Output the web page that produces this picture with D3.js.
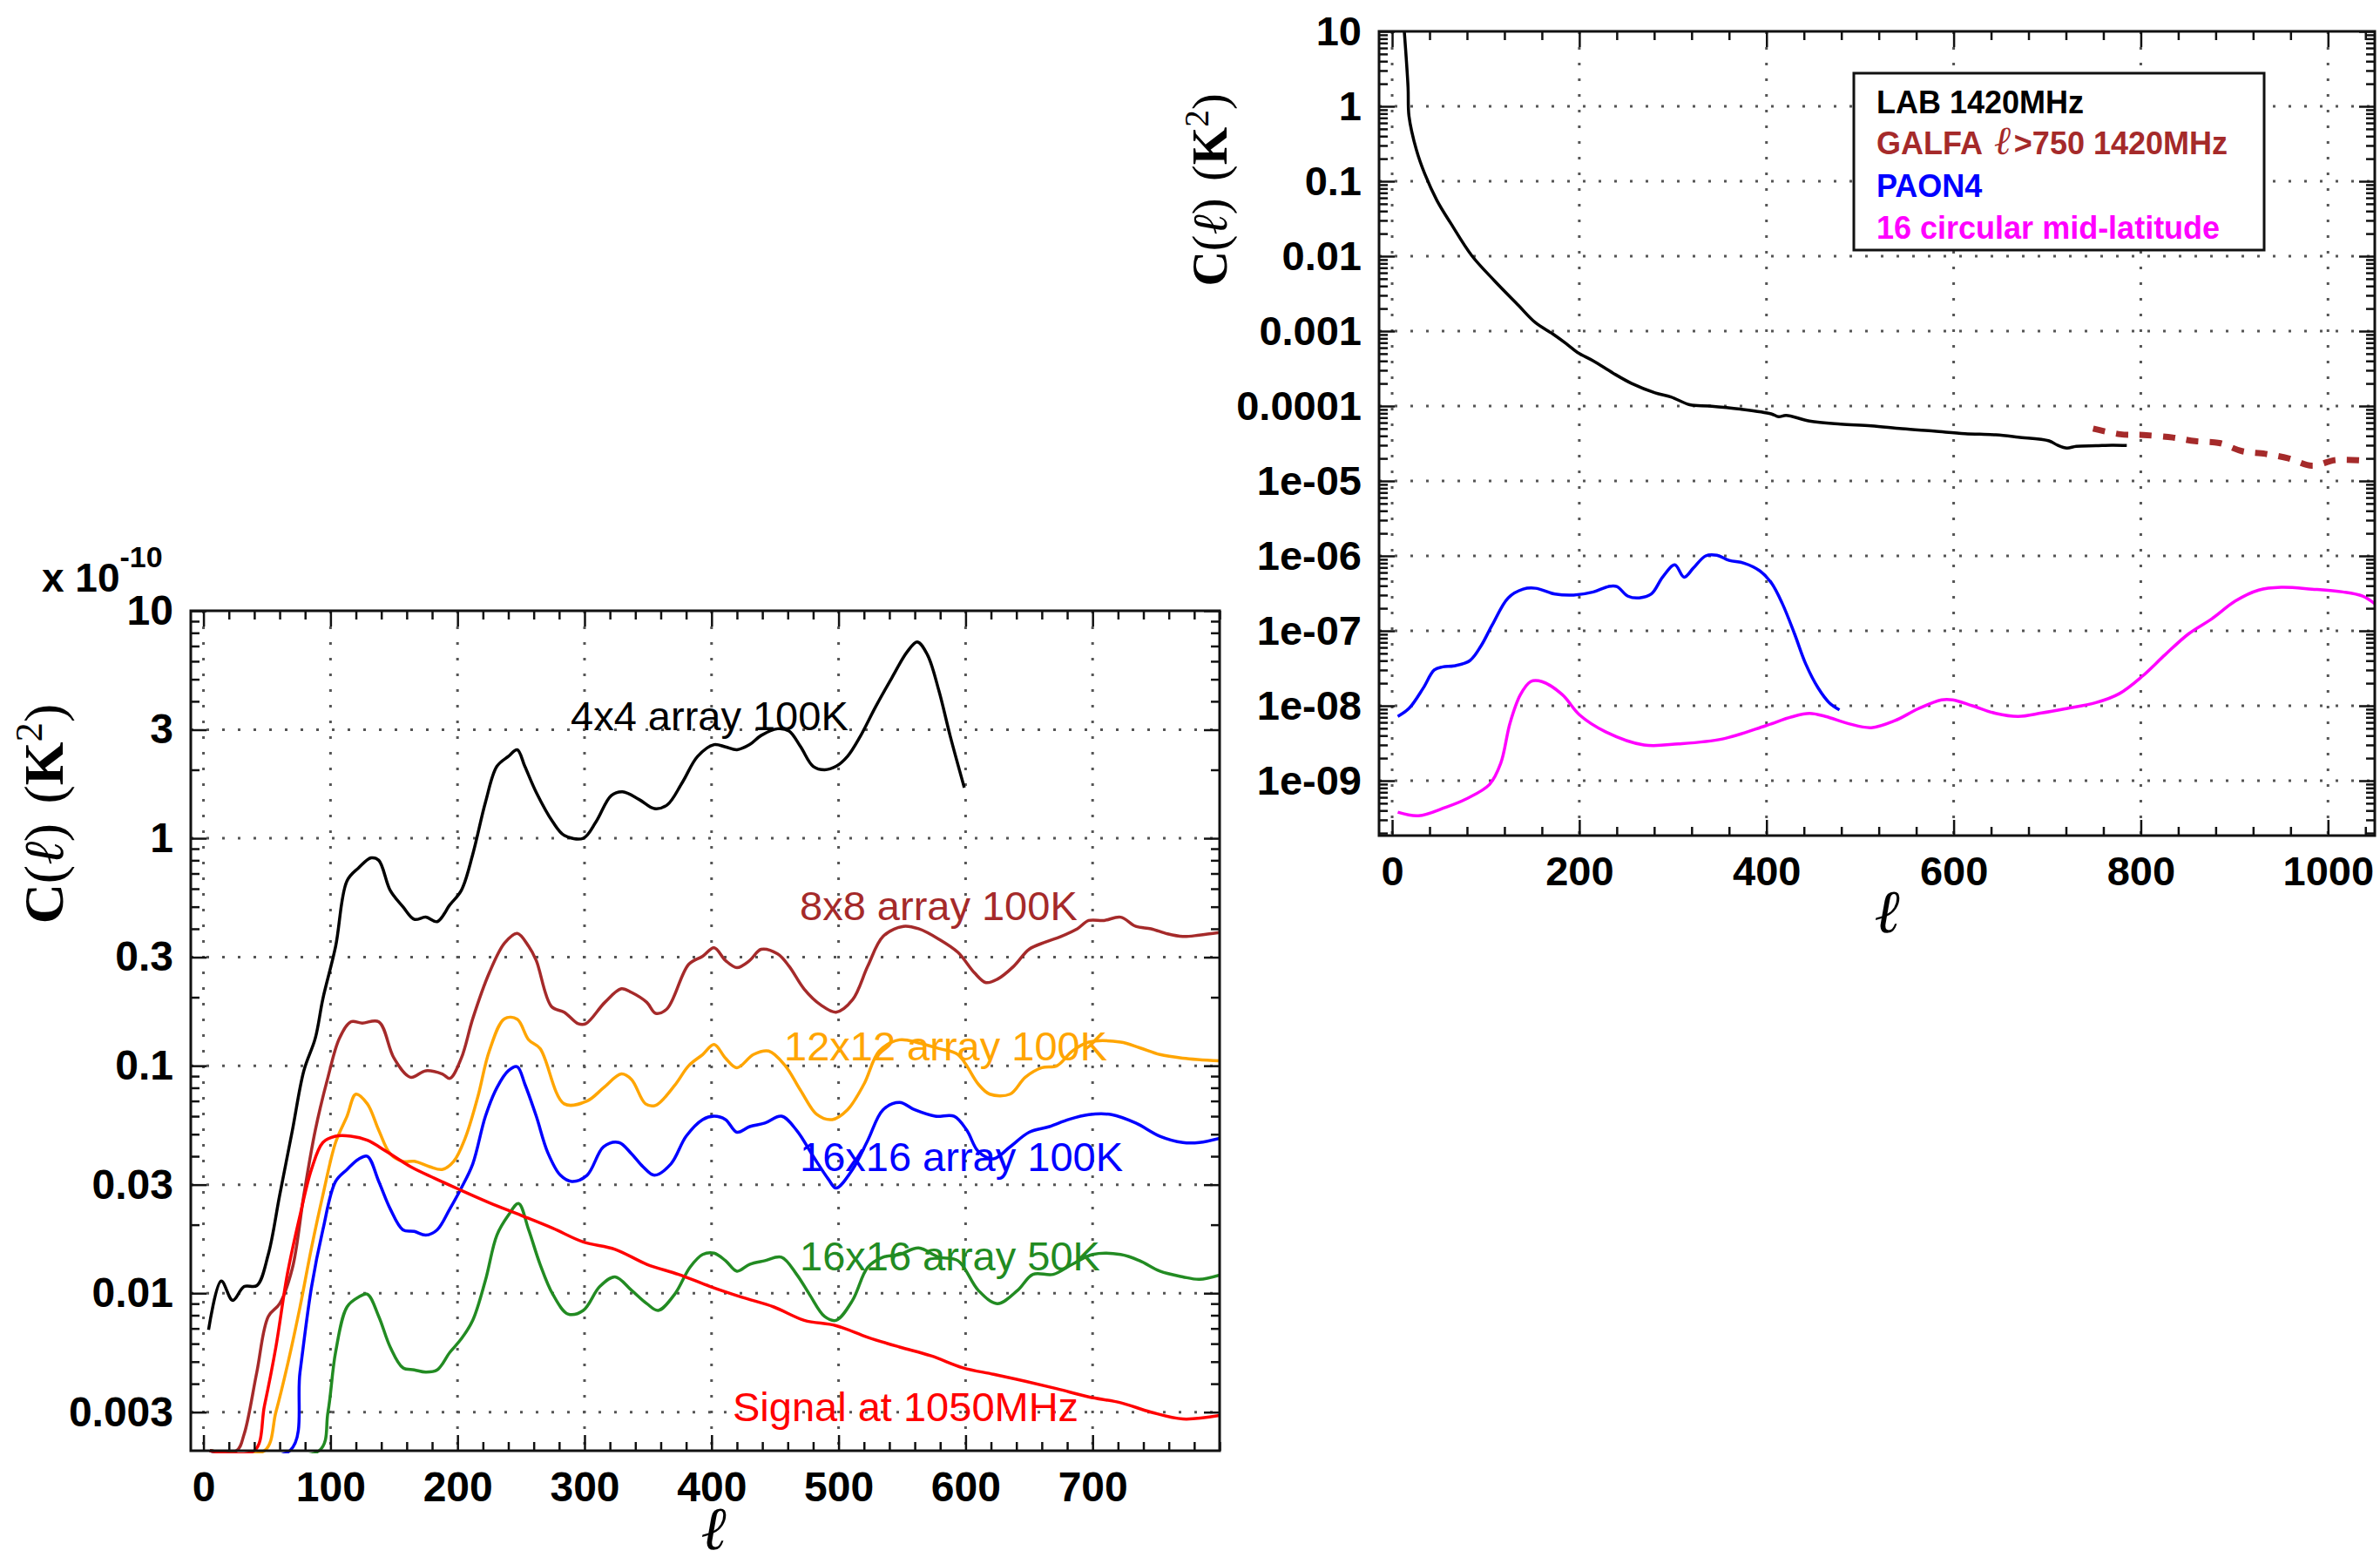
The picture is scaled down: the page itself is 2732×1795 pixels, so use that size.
<!DOCTYPE html>
<html>
<head>
<meta charset="utf-8">
<script src="https://cdn.jsdelivr.net/npm/d3@7"></script>
<style>
  body { margin: 0; background: #fff; }
</style>
</head>
<body>
<div id="vis"></div>
<script>
// ---- left panel: simulated arrays (x 10^-10 K^2) ----
const array4x4_100K = [[4,0.0069],[14,0.0113],[23,0.0093],[32,0.0107],[42,0.0108],[51,0.0148],[60,0.027],[70,0.052],[79,0.095],[88,0.132],[94,0.197],[104,0.334],[113,0.65],[122,0.74],[132,0.82],[138,0.80],[147,0.59],[157,0.50],[166,0.44],[175,0.45],[184,0.43],[194,0.51],[203,0.59],[212,0.85],[222,1.44],[231,2.07],[240,2.29],[247,2.45],[253,2.07],[262,1.59],[275,1.18],[284,1.03],[299,1.0],[309,1.18],[321,1.54],[330,1.6],[343,1.48],[355,1.35],[365,1.4],[377,1.76],[389,2.29],[402,2.58],[411,2.52],[420,2.45],[430,2.58],[439,2.83],[452,3.03],[461,2.96],[470,2.53],[480,2.07],[489,2.0],[498,2.07],[507,2.29],[517,2.8],[529,3.77],[542,5.08],[554,6.6],[562,7.3],[570,6.4],[579,4.45],[588,2.8],[599,1.67]];
const array8x8_100K = [[5,0.002],[26,0.002],[32,0.0024],[42,0.0045],[51,0.0079],[60,0.009],[70,0.0129],[79,0.027],[88,0.052],[98,0.089],[107,0.132],[116,0.156],[125,0.154],[138,0.156],[150,0.108],[163,0.089],[175,0.095],[188,0.092],[194,0.088],[203,0.108],[212,0.161],[225,0.256],[237,0.346],[247,0.382],[256,0.335],[262,0.29],[274,0.182],[284,0.172],[295,0.153],[301,0.153],[316,0.19],[329,0.218],[337,0.21],[349,0.19],[356,0.17],[365,0.178],[382,0.279],[393,0.303],[402,0.33],[411,0.29],[420,0.27],[430,0.29],[439,0.325],[452,0.31],[461,0.274],[473,0.217],[486,0.185],[498,0.172],[511,0.195],[523,0.274],[535,0.37],[551,0.41],[563,0.40],[579,0.36],[594,0.315],[607,0.256],[616,0.232],[625,0.24],[638,0.274],[650,0.325],[663,0.35],[675,0.37],[688,0.40],[697,0.435],[709,0.435],[722,0.45],[734,0.41],[746,0.40],[759,0.38],[771,0.37],[784,0.375],[800,0.385]];
const array12x12_100K = [[5,0.002],[48,0.002],[57,0.003],[66,0.0048],[76,0.0087],[85,0.0158],[94,0.027],[104,0.046],[113,0.06],[120,0.075],[129,0.068],[138,0.052],[147,0.041],[157,0.038],[166,0.038],[178,0.036],[188,0.035],[197,0.038],[206,0.048],[216,0.073],[225,0.116],[237,0.161],[247,0.16],[256,0.13],[265,0.119],[284,0.068],[302,0.07],[315,0.08],[329,0.092],[337,0.087],[348,0.068],[356,0.067],[371,0.082],[382,0.10],[393,0.112],[402,0.124],[411,0.108],[420,0.098],[433,0.112],[445,0.116],[458,0.10],[470,0.078],[483,0.061],[495,0.058],[507,0.064],[520,0.083],[532,0.116],[548,0.13],[563,0.126],[579,0.119],[594,0.112],[610,0.083],[619,0.075],[635,0.075],[647,0.089],[660,0.098],[672,0.10],[684,0.116],[697,0.127],[722,0.127],[737,0.12],[753,0.112],[771,0.108],[800,0.105]];
const array16x16_100K = [[5,0.002],[68,0.002],[76,0.0045],[85,0.0106],[94,0.019],[104,0.031],[113,0.035],[122,0.0388],[129,0.040],[138,0.031],[147,0.0235],[157,0.019],[166,0.0187],[175,0.018],[184,0.019],[194,0.0235],[203,0.029],[212,0.037],[222,0.06],[231,0.080],[240,0.095],[247,0.099],[253,0.083],[262,0.06],[271,0.0416],[281,0.033],[290,0.031],[302,0.033],[315,0.044],[327,0.046],[337,0.041],[346,0.036],[355,0.033],[368,0.037],[380,0.049],[393,0.058],[402,0.06],[411,0.058],[420,0.051],[430,0.054],[442,0.056],[455,0.06],[467,0.052],[480,0.040],[492,0.0317],[498,0.029],[511,0.035],[523,0.047],[535,0.064],[548,0.069],[560,0.064],[576,0.06],[591,0.06],[601,0.052],[610,0.042],[622,0.039],[635,0.044],[650,0.051],[666,0.054],[681,0.058],[697,0.061],[715,0.061],[734,0.056],[753,0.049],[771,0.046],[784,0.046],[800,0.048]];
const array16x16_50K = [[5,0.002],[91,0.002],[98,0.003],[104,0.0055],[113,0.0087],[122,0.0096],[129,0.0099],[138,0.0079],[147,0.0058],[157,0.0047],[166,0.0046],[175,0.0045],[184,0.0046],[194,0.0055],[203,0.0063],[212,0.0076],[222,0.0114],[231,0.018],[240,0.022],[248,0.0248],[256,0.019],[265,0.0134],[275,0.0099],[287,0.0081],[299,0.0084],[312,0.0107],[324,0.0118],[337,0.0103],[349,0.009],[358,0.0084],[371,0.0099],[383,0.013],[393,0.0148],[402,0.015],[411,0.0139],[420,0.0125],[430,0.0134],[442,0.0139],[455,0.0144],[467,0.0121],[477,0.0099],[489,0.0079],[498,0.0076],[511,0.0093],[523,0.013],[535,0.0144],[548,0.0148],[563,0.0158],[579,0.0144],[594,0.0139],[610,0.0103],[625,0.009],[641,0.0103],[653,0.0121],[669,0.0121],[684,0.0134],[700,0.0148],[722,0.0148],[737,0.0139],[753,0.0125],[771,0.0118],[784,0.0115],[800,0.012]];
const signal1050 = [[5,0.002],[40,0.002],[48,0.0032],[57,0.0058],[66,0.0121],[76,0.022],[85,0.035],[94,0.046],[104,0.049],[116,0.049],[129,0.047],[144,0.042],[163,0.036],[182,0.032],[200,0.0288],[225,0.025],[250,0.022],[275,0.0193],[299,0.0168],[324,0.0156],[349,0.0134],[374,0.0121],[399,0.0107],[424,0.0096],[449,0.0087],[473,0.0076],[498,0.0072],[523,0.0064],[548,0.0058],[573,0.0053],[598,0.0047],[622,0.0044],[647,0.0041],[672,0.0038],[697,0.0035],[722,0.0033],[746,0.0030],[771,0.0028],[800,0.0029]];

const leftNames = ["4x4 array 100K", "8x8 array 100K", "12x12 array 100K", "16x16 array 100K", "16x16 array 50K", "Signal at 1050MHz"];
const leftData = [array4x4_100K, array8x8_100K, array12x12_100K, array16x16_100K, array16x16_50K, signal1050];

// ---- right panel: measured foregrounds (K^2) ----
const lab1420 = [[13,12],[17,1.8],[18,0.74],[26,0.26],[35,0.124],[48,0.055],[63,0.027],[85,0.0102],[110,0.0046],[135,0.0022],[153,0.0013],[172,0.00091],[186,0.00068],[198,0.00052],[215,0.0004],[236,0.000275],[256,0.0002],[281,0.00015],[298,0.000132],[318,0.000104],[339,0.0001],[372,0.000091],[405,0.0000787],[413,0.000072],[421,0.000075],[446,0.000063],[479,0.0000575],[512,0.0000545],[545,0.0000497],[579,0.0000462],[612,0.0000428],[645,0.0000412],[669,0.0000384],[702,0.0000343],[711,0.00003],[721,0.0000275],[731,0.000029],[752,0.0000295],[769,0.00003],[785,0.0000298]];
const galfa1420 = [[749,5.0e-5],[778,4.2e-5],[803,4.1e-5],[834,3.8e-5],[858,3.4e-5],[884,3.2e-5],[908,2.5e-5],[933,2.3e-5],[958,2.0e-5],[983,1.6e-5],[1008,1.9e-5],[1045,1.85e-5]];
const paon4 = [[6,7.2e-9],[18,9.2e-9],[33,1.7e-8],[45,3.0e-8],[54,3.3e-8],[66,3.4e-8],[83,4.0e-8],[95,6.3e-8],[107,1.2e-7],[124,2.75e-7],[140,3.6e-7],[153,3.7e-7],[174,3.1e-7],[194,3.0e-7],[215,3.3e-7],[231,3.9e-7],[240,3.9e-7],[252,2.9e-7],[264,2.75e-7],[277,3.1e-7],[289,5.2e-7],[302,7.6e-7],[312,5.2e-7],[322,6.9e-7],[335,1e-6],[347,1.02e-6],[360,8.7e-7],[376,8.0e-7],[393,6.3e-7],[405,4.4e-7],[417,2.3e-7],[430,9.1e-8],[442,3.6e-8],[455,1.74e-8],[467,1.1e-8],[478,8.8e-9]];
const circular16 = [[6,3.8e-10],[28,3.4e-10],[57,4.4e-10],[79,5.7e-10],[104,8.9e-10],[116,1.7e-9],[126,5.9e-9],[137,1.4e-8],[148,2.1e-8],[160,2.1e-8],[182,1.4e-8],[200,7.6e-9],[228,4.5e-9],[269,3.0e-9],[306,3.1e-9],[353,3.6e-9],[399,5.4e-9],[427,7.1e-9],[446,7.9e-9],[463,7.2e-9],[488,5.75e-9],[512,5.1e-9],[537,6.3e-9],[562,9.1e-9],[587,1.2e-8],[599,1.2e-8],[620,1e-8],[645,7.9e-9],[669,7.2e-9],[694,8.0e-9],[719,9.1e-9],[752,1.1e-8],[777,1.45e-8],[802,2.5e-8],[826,4.8e-8],[851,9.1e-8],[876,1.45e-7],[901,2.5e-7],[926,3.5e-7],[950,3.8e-7],[983,3.6e-7],[1016,3.3e-7],[1037,2.9e-7],[1050,2.3e-7]];

const rightNames = ["LAB 1420MHz", "GALFA", "PAON4", "16 circular mid-latitude"];
const rightData = [lab1420, galfa1420, paon4, circular16];

// ---- ticks ----
const leftXTicks = [0, 100, 200, 300, 400, 500, 600, 700];
const leftYTicks = [10, 3, 1, 0.3, 0.1, 0.03, 0.01, 0.003];
const leftYLabels = ["10", "3", "1", "0.3", "0.1", "0.03", "0.01", "0.003"];
const rightXTicks = [0, 200, 400, 600, 800, 1000];
const rightYTicks = [10, 1, 0.1, 0.01, 0.001, 1e-4, 1e-5, 1e-6, 1e-7, 1e-8, 1e-9];
const rightYLabels = ["10", "1", "0.1", "0.01", "0.001", "0.0001", "1e-05", "1e-06", "1e-07", "1e-08", "1e-09"];

const W = 2732, H = 1795;
const sans = "'Liberation Sans', Arial, Helvetica, sans-serif";
const serif = "'Liberation Serif', 'DejaVu Serif', serif";

const svg = d3.select("#vis").append("svg")
    .attr("width", W)
    .attr("height", H)
    .attr("viewBox", [0, 0, W, H]);

svg.append("rect").attr("width", W).attr("height", H).attr("fill", "#fff");

function logMinor(domain, majors) {
    const out = [];
    const lo = Math.floor(Math.log10(domain[0])), hi = Math.ceil(Math.log10(domain[1]));
    for (let k = lo; k <= hi; k++) {
        for (let m = 1; m <= 9; m++) {
            const v = +(m * Math.pow(10, k)).toPrecision(6);
            if (v < domain[0] || v > domain[1]) continue;
            if (majors.some(t => Math.abs(t - v) / v < 1e-6)) continue;
            out.push(v);
        }
    }
    return out;
}

function drawPanel(p) {
    const x = d3.scaleLinear().domain(p.xDomain).range([p.left, p.right]);
    const y = d3.scaleLog().domain(p.yDomain).range([p.bottom, p.top]).clamp(true);
    const g = svg.append("g");

    // dotted grid
    const grid = g.append("g")
        .attr("stroke", "#555")
        .attr("stroke-width", 3)
        .attr("stroke-dasharray", "3,15");
    grid.selectAll(".gx").data(p.xTicks).join("line")
        .attr("x1", d => x(d)).attr("x2", d => x(d))
        .attr("y1", p.top).attr("y2", p.bottom);
    grid.selectAll(".gy").data(p.yTicks.filter(d => d < p.yDomain[1])).join("line")
        .attr("x1", p.left).attr("x2", p.right)
        .attr("y1", d => y(d)).attr("y2", d => y(d));

    // curves
    const clipId = "clip-" + p.id;
    svg.append("clipPath").attr("id", clipId)
        .append("rect")
        .attr("x", p.left).attr("y", p.top - 3)
        .attr("width", p.right - p.left).attr("height", p.bottom - p.top + 6);

    const line = d3.line()
        .x(d => x(d[0]))
        .y(d => y(d[1]))
        .curve(d3.curveCatmullRom.alpha(0.5));

    g.append("g").attr("clip-path", `url(#${clipId})`)
        .selectAll("path").data(p.series).join("path")
        .attr("d", d => line(d.data))
        .attr("fill", "none")
        .attr("stroke", d => d.color)
        .attr("stroke-width", d => d.width || 3.5)
        .attr("stroke-dasharray", d => d.dash || null)
        .attr("stroke-linejoin", "round");

    // axes: ticks point inward on all four sides
    const xMinor = d3.range(p.xDomain[0], p.xDomain[1] + 1e-9, 1)
        .filter(v => Number.isInteger(v) && v % p.xMinorStep === 0 && !p.xTicks.includes(v));
    const yMinor = logMinor(p.yDomain, p.yTicks);

    const axisStyle = sel => {
        sel.select(".domain").remove();
        sel.selectAll(".tick line").attr("stroke", "#111").attr("stroke-width", 2.5);
        sel.selectAll("text")
            .attr("font-family", sans)
            .attr("font-weight", "bold")
            .attr("font-size", p.tickFont)
            .attr("fill", "#000");
    };

    g.append("g").attr("transform", `translate(0,${p.bottom})`)
        .call(d3.axisBottom(x).tickValues(p.xTicks).tickSize(-18).tickPadding(24).tickFormat(d3.format("d")))
        .call(axisStyle);
    g.append("g").attr("transform", `translate(0,${p.bottom})`)
        .call(d3.axisBottom(x).tickValues(xMinor).tickSize(-10).tickFormat(""))
        .call(axisStyle);
    g.append("g").attr("transform", `translate(0,${p.top})`)
        .call(d3.axisTop(x).tickValues(p.xTicks).tickSize(-18).tickFormat(""))
        .call(axisStyle);
    g.append("g").attr("transform", `translate(0,${p.top})`)
        .call(d3.axisTop(x).tickValues(xMinor).tickSize(-10).tickFormat(""))
        .call(axisStyle);

    g.append("g").attr("transform", `translate(${p.left},0)`)
        .call(d3.axisLeft(y).tickValues(p.yTicks).tickSize(-18).tickPadding(20)
            .tickFormat((d, i) => p.yLabels[i]))
        .call(axisStyle);
    g.append("g").attr("transform", `translate(${p.left},0)`)
        .call(d3.axisLeft(y).tickValues(yMinor).tickSize(-10).tickFormat(""))
        .call(axisStyle);
    g.append("g").attr("transform", `translate(${p.right},0)`)
        .call(d3.axisRight(y).tickValues(p.yTicks).tickSize(-18).tickFormat(""))
        .call(axisStyle);
    g.append("g").attr("transform", `translate(${p.right},0)`)
        .call(d3.axisRight(y).tickValues(yMinor).tickSize(-10).tickFormat(""))
        .call(axisStyle);

    // frame
    g.append("rect")
        .attr("x", p.left).attr("y", p.top)
        .attr("width", p.right - p.left).attr("height", p.bottom - p.top)
        .attr("fill", "none").attr("stroke", "#111").attr("stroke-width", 3);

    // y title  C(l) (K^2)
    const yt = g.append("text")
        .attr("transform", `translate(${p.yTitle[0]},${p.yTitle[1]}) rotate(-90)`)
        .attr("text-anchor", "middle")
        .attr("font-family", serif)
        .attr("font-size", p.yTitleFont)
        .attr("fill", "#000");
    yt.append("tspan").attr("font-weight", "bold").text("C");
    yt.append("tspan").text("(");
    yt.append("tspan").attr("font-style", "italic").text("ℓ");
    yt.append("tspan").text(")");
    yt.append("tspan").attr("dx", p.yTitleFont * 0.35).text("(");
    yt.append("tspan").attr("font-weight", "bold").text("K");
    yt.append("tspan").attr("dy", -p.yTitleFont * 0.38).attr("font-size", p.yTitleFont * 0.7).text("2");
    yt.append("tspan").attr("dy", p.yTitleFont * 0.38).text(")");

    // x title
    g.append("text")
        .attr("x", p.xTitle[0]).attr("y", p.xTitle[1])
        .attr("text-anchor", "middle")
        .attr("font-family", serif)
        .attr("font-style", "italic")
        .attr("font-size", p.xTitleFont)
        .attr("fill", "#000")
        .text("ℓ");

    return {x, y, g};
}

const leftColors = ["#000000", "#a52a2a", "#ffa500", "#0000ff", "#228b22", "#ff0000"];
const left = drawPanel({
    id: "left",
    left: 219, right: 1400, top: 701, bottom: 1665,
    xDomain: [-10, 800], yDomain: [0.00203, 10],
    xTicks: leftXTicks, xMinorStep: 20,
    yTicks: leftYTicks, yLabels: leftYLabels,
    tickFont: 48,
    yTitle: [72, 934], yTitleFont: 64,
    xTitle: [819, 1778], xTitleFont: 70,
    series: leftData.map((d, i) => ({data: d, color: leftColors[i], width: 3.5}))
});

// in-plot series labels
const leftLabelPos = [[655, 838], [918, 1056], [900, 1217], [918, 1344], [918, 1458], [841, 1631]];
left.g.append("g").selectAll("text").data(leftNames).join("text")
    .attr("x", (d, i) => leftLabelPos[i][0])
    .attr("y", (d, i) => leftLabelPos[i][1])
    .attr("font-family", sans)
    .attr("font-size", 47)
    .attr("fill", (d, i) => leftColors[i])
    .text(d => d);

// x 10^-10 multiplier
const mult = svg.append("text")
    .attr("x", 48).attr("y", 679)
    .attr("font-family", sans).attr("font-weight", "bold")
    .attr("font-size", 46).attr("fill", "#000");
mult.append("tspan").text("x 10");
mult.append("tspan").attr("dy", -28).attr("font-size", 34).text("-10");

const rightColors = ["#000000", "#a52a2a", "#0000ff", "#ff00ff"];
const right = drawPanel({
    id: "right",
    left: 1583, right: 2726, top: 36, bottom: 959,
    xDomain: [-14, 1050], yDomain: [1.85e-10, 10],
    xTicks: rightXTicks, xMinorStep: 40,
    yTicks: rightYTicks, yLabels: rightYLabels,
    tickFont: 47,
    yTitle: [1408, 218], yTitleFont: 56,
    xTitle: [2166, 1070], xTitleFont: 70,
    series: rightData.map((d, i) => ({
        data: d, color: rightColors[i],
        width: i === 1 ? 7 : 3.5,
        dash: i === 1 ? "14,13" : null
    }))
});

// legend box
const leg = svg.append("g");
leg.append("rect")
    .attr("x", 2128).attr("y", 84).attr("width", 471).attr("height", 203)
    .attr("fill", "#fff").attr("stroke", "#111").attr("stroke-width", 3);
const legY = [130, 177, 226, 274];
rightNames.forEach((name, i) => {
    const t = leg.append("text")
        .attr("x", 2154).attr("y", legY[i])
        .attr("font-family", sans).attr("font-weight", "bold")
        .attr("font-size", 36).attr("fill", rightColors[i]);
    if (name === "GALFA") {
        t.append("tspan").text("GALFA ");
        t.append("tspan").attr("font-family", serif).attr("font-style", "italic")
            .attr("font-weight", "normal").attr("font-size", 46).attr("dx", 4).text("ℓ");
        t.append("tspan").attr("dx", 4).text(">750 1420MHz");
    } else {
        t.text(name);
    }
});
</script>
</body>
</html>
